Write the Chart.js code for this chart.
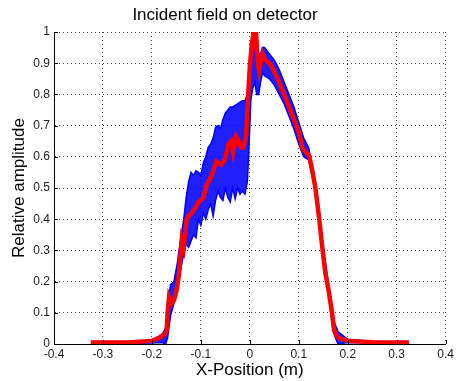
<!DOCTYPE html>
<html>
<head>
<meta charset="utf-8">
<script src="https://cdn.jsdelivr.net/npm/chart.js@4.4.1/dist/chart.umd.min.js"></script>
<style>
  body { margin: 0; background: #fff; }
  canvas { display: block; }
</style>
</head>
<body>
<canvas id="fieldChart" width="457" height="381"></canvas>
<script>
// red curve (mean field)
const redX = [-0.325, -0.25, -0.2, -0.185, -0.175, -0.17, -0.168, -0.165, -0.16, -0.155, -0.15, -0.145, -0.139, -0.135, -0.129, -0.125, -0.119, -0.11, -0.105, -0.1, -0.095, -0.088, -0.078, -0.068, -0.058, -0.051, -0.044, -0.038, -0.034, -0.028, -0.024, -0.018, -0.014, -0.008, -0.004, 0.0, 0.004, 0.008, 0.011, 0.013, 0.016, 0.019, 0.022, 0.026, 0.029, 0.032, 0.043, 0.057, 0.07, 0.08, 0.09, 0.1, 0.107, 0.114, 0.121, 0.127, 0.134, 0.141, 0.148, 0.154, 0.161, 0.168, 0.172, 0.178, 0.184, 0.2, 0.25, 0.325];
const redY = [0.005, 0.005, 0.01, 0.02, 0.03, 0.04, 0.1, 0.15, 0.13, 0.14, 0.17, 0.22, 0.333, 0.31, 0.40, 0.41, 0.42, 0.44, 0.455, 0.46, 0.47, 0.51, 0.54, 0.585, 0.575, 0.59, 0.64, 0.65, 0.615, 0.665, 0.655, 0.63, 0.63, 0.66, 0.78, 0.89, 0.96, 1.0, 0.97, 0.99, 0.9, 0.875, 0.9, 0.93, 0.92, 0.91, 0.895, 0.85, 0.80, 0.76, 0.72, 0.68, 0.63, 0.615, 0.605, 0.56, 0.50, 0.41, 0.31, 0.23, 0.17, 0.1, 0.045, 0.025, 0.018, 0.01, 0.006, 0.005];

// blue band (spread of individual traces)
const blueX = [-0.25, -0.2, -0.18, -0.172, -0.168, -0.162, -0.155, -0.148, -0.141, -0.135, -0.13, -0.125, -0.12, -0.115, -0.11, -0.105, -0.1, -0.095, -0.09, -0.085, -0.08, -0.075, -0.07, -0.065, -0.06, -0.055, -0.05, -0.045, -0.04, -0.035, -0.03, -0.025, -0.02, -0.015, -0.01, -0.005, -0.002, 0.002, 0.006, 0.01, 0.014, 0.018, 0.022, 0.026, 0.03, 0.04, 0.05, 0.06, 0.07, 0.08, 0.09, 0.1, 0.11, 0.12, 0.13, 0.14, 0.15, 0.16, 0.17, 0.18, 0.2, 0.25];
const blueUpper = [0.006, 0.012, 0.03, 0.05, 0.12, 0.19, 0.2, 0.26, 0.34, 0.4, 0.47, 0.52, 0.55, 0.54, 0.555, 0.55, 0.54, 0.58, 0.6, 0.63, 0.64, 0.66, 0.695, 0.70, 0.69, 0.72, 0.74, 0.75, 0.76, 0.76, 0.765, 0.77, 0.775, 0.78, 0.78, 0.80, 0.84, 0.92, 1.0, 1.0, 0.97, 0.93, 0.93, 0.95, 0.95, 0.93, 0.91, 0.88, 0.84, 0.80, 0.76, 0.71, 0.66, 0.63, 0.55, 0.44, 0.31, 0.20, 0.08, 0.04, 0.015, 0.008];
const blueLower = [0.002, 0.003, 0.005, 0.0, 0.02, 0.09, 0.13, 0.18, 0.24, 0.29, 0.32, 0.31, 0.33, 0.35, 0.34, 0.40, 0.38, 0.42, 0.40, 0.43, 0.45, 0.41, 0.46, 0.49, 0.47, 0.46, 0.50, 0.47, 0.455, 0.50, 0.465, 0.50, 0.48, 0.49, 0.48, 0.52, 0.62, 0.78, 0.82, 0.84, 0.80, 0.80, 0.84, 0.87, 0.86, 0.85, 0.83, 0.80, 0.77, 0.73, 0.69, 0.64, 0.60, 0.59, 0.52, 0.41, 0.28, 0.17, 0.04, 0.0, 0.005, 0.003];

const xTicks = [-0.4, -0.3, -0.2, -0.1, 0, 0.1, 0.2, 0.3, 0.4];
const yTicks = [0, 0.1, 0.2, 0.3, 0.4, 0.5, 0.6, 0.7, 0.8, 0.9, 1];

function toPoints(xs, ys) {
  return xs.map((x, i) => ({ x: x, y: ys[i] }));
}

// labels like matlab: 0, 0.1 ... 1
function tickLabel(value) {
  return String(parseFloat(value.toFixed(2)));
}

// matlab style ticks pointing into the plot
const innerTicks = {
  id: 'innerTicks',
  afterDatasetsDraw(chart) {
    const { ctx, chartArea, scales } = chart;
    ctx.save();
    ctx.strokeStyle = '#000';
    ctx.lineWidth = 1;
    ctx.beginPath();
    xTicks.forEach(v => {
      const px = Math.round(scales.x.getPixelForValue(v)) + 0.5;
      ctx.moveTo(px, chartArea.bottom);
      ctx.lineTo(px, chartArea.bottom - 4);
    });
    yTicks.forEach(v => {
      const py = Math.round(scales.y.getPixelForValue(v)) + 0.5;
      ctx.moveTo(chartArea.left, py);
      ctx.lineTo(chartArea.left + 4, py);
    });
    ctx.stroke();
    ctx.restore();
  }
};

Chart.defaults.font.family = '"Liberation Sans", Arial, sans-serif';
Chart.defaults.color = '#000';

const ctx = document.getElementById('fieldChart').getContext('2d');
new Chart(ctx, {
  type: 'line',
  data: {
    datasets: [
      {
        label: 'mean',
        data: toPoints(redX, redY),
        borderColor: '#ff0000',
        borderWidth: 4.5,
        pointRadius: 0,
        fill: false,
        tension: 0,
        order: 0
      },
      {
        label: 'upper',
        data: toPoints(blueX, blueUpper),
        borderColor: '#0000ff',
        backgroundColor: 'rgba(0,0,255,0.88)',
        borderWidth: 1.5,
        pointRadius: 0,
        fill: '+1',
        tension: 0,
        order: 1
      },
      {
        label: 'lower',
        data: toPoints(blueX, blueLower),
        borderColor: '#0000ff',
        borderWidth: 1.5,
        pointRadius: 0,
        fill: false,
        tension: 0,
        order: 2
      }
    ]
  },
  options: {
    responsive: false,
    animation: false,
    layout: { padding: { left: 0, right: 7, top: 0, bottom: 0 } },
    plugins: {
      legend: { display: false },
      tooltip: { enabled: false },
      title: {
        display: true,
        text: 'Incident field on detector',
        font: { size: 17, weight: 'normal' },
        color: '#000',
        padding: { top: 5, bottom: 6.6 }
      }
    },
    scales: {
      x: {
        type: 'linear',
        min: -0.4,
        max: 0.4,
        afterFit: scale => { scale.height = 37; },
        ticks: { stepSize: 0.1, autoSkip: false, maxRotation: 0, padding: 3, color: '#1a1a1a', font: { size: 12 }, callback: tickLabel },
        grid: { color: '#444', lineWidth: 1, drawTicks: false },
        border: { color: '#000', width: 1, dash: [1, 3] },
        title: { display: true, text: 'X-Position (m)', font: { size: 17 }, color: '#000', padding: { top: 0, bottom: 0 } }
      },
      y: {
        min: 0,
        max: 1,
        afterFit: scale => { scale.width = 54; },
        ticks: { stepSize: 0.1, autoSkip: false, padding: 4, color: '#1a1a1a', font: { size: 12 }, callback: tickLabel },
        grid: { color: '#444', lineWidth: 1, drawTicks: false },
        border: { color: '#000', width: 1, dash: [1, 3] },
        title: { display: true, text: 'Relative amplitude', font: { size: 17 }, color: '#000', padding: { top: 9, bottom: 0 } }
      }
    }
  },
  plugins: [innerTicks]
});
</script>
</body>
</html>
